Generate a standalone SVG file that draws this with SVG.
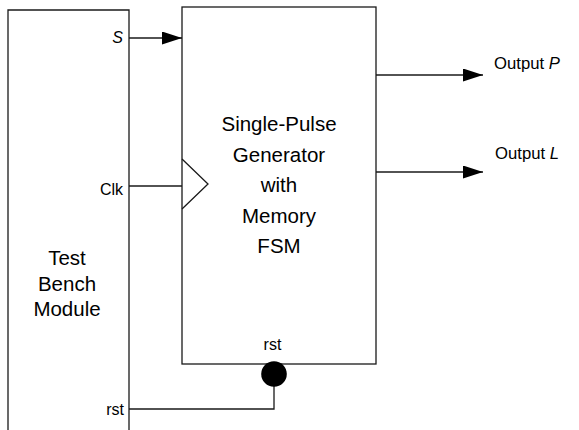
<svg xmlns="http://www.w3.org/2000/svg" width="579" height="430" viewBox="0 0 579 430">
<defs>
<marker id="ah" markerWidth="20" markerHeight="13" refX="20" refY="6.5" orient="auto" markerUnits="userSpaceOnUse">
<path d="M0,0 L20,6.5 L0,13 Z" fill="#000"/>
</marker>
<style>
.box{fill:#fff;stroke:#1a1a1a;stroke-width:1.3}
.w{fill:none;stroke:#1a1a1a;stroke-width:1.3}
.t{font-family:"Liberation Sans",Arial,sans-serif;fill:#000}
.big{font-size:20.5px;text-anchor:middle}
.sm{font-size:16px;text-anchor:end}
.out{font-size:16.7px}
</style>
</defs>
<rect width="579" height="430" fill="#fff"/>
<g id="testbench">
<path class="w" d="M8,431 L8,10 L129,10 L129,431"/>
<text class="t big" x="67" y="265">Test</text>
<text class="t big" x="67" y="291">Bench</text>
<text class="t big" x="67" y="316">Module</text>
<text class="t sm" x="123" y="43" font-style="italic">S</text>
<text class="t sm" x="123" y="195">Clk</text>
<text class="t sm" x="124" y="415">rst</text>
</g>
<g id="fsm">
<rect class="box" x="182" y="7" width="194" height="357"/>
<path class="w" d="M182,159 L208,184 L182,209"/>
<text class="t big" x="279" y="131">Single-Pulse</text>
<text class="t big" x="279" y="162">Generator</text>
<text class="t big" x="279" y="192">with</text>
<text class="t big" x="279" y="223">Memory</text>
<text class="t big" x="279" y="253">FSM</text>
<text class="t" x="272.5" y="350" font-size="16" text-anchor="middle">rst</text>
</g>
<g id="connectors">
<line class="w" x1="129" y1="38" x2="182" y2="38" marker-end="url(#ah)"/>
<line class="w" x1="129" y1="186" x2="182" y2="186"/>
<line class="w" x1="376" y1="75" x2="483" y2="75" marker-end="url(#ah)"/>
<line class="w" x1="376" y1="172" x2="483" y2="172" marker-end="url(#ah)"/>
<path class="w" d="M129,409 L274,409 L274,374"/>
<circle cx="274" cy="374" r="12.8" fill="#000"/>
</g>
<g id="outputs">
<text class="t out" x="494" y="69">Output <tspan font-style="italic">P</tspan></text>
<text class="t out" x="495" y="159">Output <tspan font-style="italic">L</tspan></text>
</g>
</svg>
